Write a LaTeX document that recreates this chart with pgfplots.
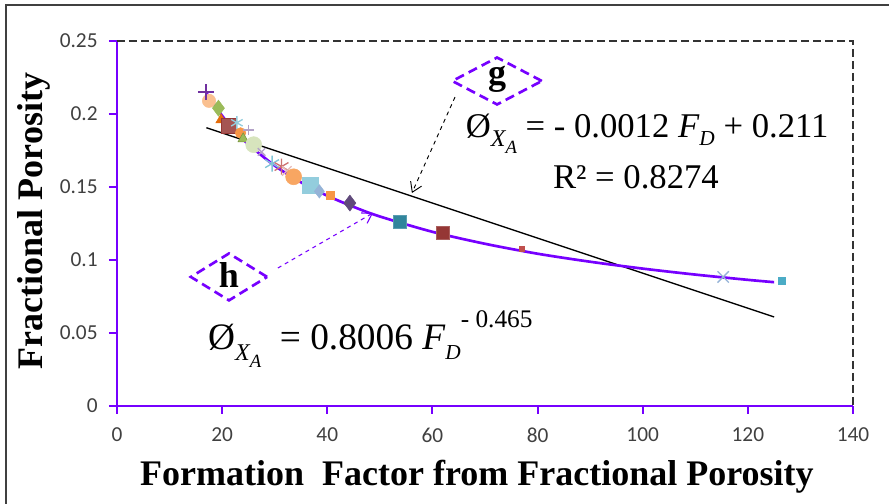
\documentclass[border=0pt]{standalone}
\usepackage{fontspec}
\setmainfont{Liberation Serif}
\newfontfamily\calibri{Carlito}
\usepackage{pgfplots}
\pgfplotsset{compat=1.18}
\usetikzlibrary{arrows.meta,shapes.geometric}

\definecolor{fitpurple}{RGB}{118,0,255}
\definecolor{xlpurple}{RGB}{112,48,160}
\definecolor{peach}{RGB}{250,192,144}
\definecolor{xlgreen}{RGB}{155,187,89}
\definecolor{xldkgreen}{RGB}{119,147,60}
\definecolor{palegreen}{RGB}{215,228,189}
\definecolor{xlorange}{RGB}{247,150,70}
\definecolor{dkorange}{RGB}{228,108,10}
\definecolor{xlbrown}{RGB}{149,55,53}
\definecolor{xlred}{RGB}{192,80,77}
\definecolor{rose}{RGB}{230,185,184}
\definecolor{ltblue}{RGB}{147,205,221}
\definecolor{xlaqua}{RGB}{75,172,198}
\definecolor{dkaqua}{RGB}{49,133,156}
\definecolor{skyblue}{RGB}{149,179,215}
\definecolor{lilac}{RGB}{179,162,199}
\definecolor{dkpurple}{RGB}{96,74,123}

\newcommand{\phix}{Ø\raisebox{-0.28em}{\fontsize{18}{18}\selectfont\itshape X\raisebox{-0.3em}{\fontsize{14}{14}\selectfont A}}}
\newcommand{\FD}{\textit{F}\raisebox{-0.25em}{\fontsize{16}{16}\selectfont\itshape D}}

\begin{document}
\begin{tikzpicture}
\begin{axis}[
    name=ax,
    scale only axis,
    width=552pt, height=273.75pt,
    xmin=0, xmax=140, ymin=0, ymax=0.25,
    xtick={0,20,...,140},
    xticklabels={0,20,40,60,80,100,120,140},
    ytick={0,0.05,0.1,0.15,0.2,0.25},
    yticklabels={0,0.05,0.1,0.15,0.2,0.25},
    axis lines*=left,
    axis line style={fitpurple, line width=2pt},
    tick align=outside,
    major tick length=6pt,
    tick style={fitpurple, line width=1.5pt},
    ticklabel style={font=\calibri\fontsize{16}{16}\selectfont, text=black!75},
    /pgf/number format/assume math mode=true,
    xticklabel shift=7pt,
    yticklabel shift=5pt,
    xlabel={\bfseries Formation\ \ Factor from Fractional Porosity},
    ylabel={\bfseries Fractional Porosity},
    label style={font=\fontsize{27}{27}\selectfont},
    xlabel style={at={(rel axis cs:0.489,0)}, anchor=center, yshift=-53pt},
    ylabel style={at={(rel axis cs:0,0.507)}, anchor=center, yshift=62pt},
    clip=false,
]
% fitted trend lines
\addplot[black, line width=1pt] coordinates {(17,0.1906) (125,0.061)};
% measured points
\addplot[only marks, mark=*, mark size=5pt, draw=peach, fill=peach] coordinates {(17.5,0.209)};
\addplot[only marks, mark=diamond*, mark size=6pt, draw=xlgreen, fill=xlgreen] coordinates {(19.3,0.204)};
\addplot[only marks, mark=triangle*, mark size=4.5pt, draw=dkorange, fill=dkorange] coordinates {(19.8,0.196)};
\addplot[only marks, mark=square*, mark size=5.5pt, draw=xlbrown, fill=xlbrown!85] coordinates {(21.3,0.192)};
\addplot[only marks, mark=asterisk, mark size=5pt, draw=ltblue, line width=1pt] coordinates {(22.8,0.194)};
\addplot[only marks, mark=*, mark size=4pt, draw=xlorange, fill=xlorange] coordinates {(23.5,0.187)};
\addplot[only marks, mark=+, mark size=4pt, draw=lilac, line width=1pt] coordinates {(25,0.189)};
\addplot[only marks, mark=triangle*, mark size=4.5pt, draw=xldkgreen, fill=xlgreen] coordinates {(24,0.183)};
\addplot[only marks, mark=*, mark size=6pt, draw=palegreen, fill=palegreen] coordinates {(26,0.179)};
\addplot[only marks, mark=x, mark size=4pt, draw=lilac, line width=1pt] coordinates {(27.5,0.174)};
\addplot[only marks, mark=asterisk, mark size=6pt, draw=xlaqua!70, line width=1pt] coordinates {(29.5,0.166)};
\addplot[only marks, mark=asterisk, mark size=6pt, draw=xlred!80, line width=1pt] coordinates {(31.3,0.164)};
\addplot[only marks, mark=x, mark size=5pt, draw=rose, line width=1pt] coordinates {(32.3,0.161)};
\addplot[only marks, mark=*, mark size=6pt, draw=xlorange!85, fill=xlorange!85] coordinates {(33.6,0.157)};
\addplot[only marks, mark=square*, mark size=6pt, draw=ltblue, fill=ltblue] coordinates {(36.8,0.151)};
\addplot[only marks, mark=diamond*, mark size=5pt, draw=skyblue, fill=skyblue] coordinates {(38.5,0.147)};
\addplot[only marks, mark=square*, mark size=3pt, draw=xlorange, fill=xlorange] coordinates {(40.6,0.1445)};
\addplot[only marks, mark=diamond*, mark size=6pt, draw=dkpurple, fill=dkpurple] coordinates {(44.3,0.139)};
\addplot[only marks, mark=square*, mark size=5pt, draw=dkaqua!80, fill=dkaqua] coordinates {(53.8,0.126)};
\addplot[only marks, mark=square*, mark size=5pt, draw=xlbrown!80, fill=xlbrown] coordinates {(62,0.1185)};
\addplot[only marks, mark=square*, mark size=2pt, draw=xlred, fill=xlred] coordinates {(77,0.1075)};
\addplot[only marks, mark=x, mark size=6pt, draw=skyblue, line width=1pt] coordinates {(115.3,0.0884)};
\addplot[only marks, mark=square*, mark size=2.5pt, draw=xlaqua, fill=xlaqua] coordinates {(126.5,0.0856)};
% power fit
\addplot[fitpurple, line width=2pt, smooth] coordinates {
    (17,0.2144) (20,0.1988) (22,0.1902) (25,0.1792) (30,0.1646) (35,0.1532)
    (40,0.1440) (45,0.1364) (50,0.1298) (60,0.1193) (70,0.1111) (80,0.1043)
    (90,0.0988) (100,0.0941) (110,0.0900) (120,0.0864) (125,0.0848)
};
\addplot[only marks, mark=+, mark size=6pt, draw=xlpurple, line width=1pt] coordinates {(16.9,0.215)};

% frame
\draw[black!80, dash pattern=on 6pt off 3pt, line width=0.8pt] (rel axis cs:0,1) -- (rel axis cs:1,1) -- (rel axis cs:1,0);
\draw[black!75, line width=1.5pt] (rel axis cs:-0.1508,-0.2685) -- (rel axis cs:-0.1508,1.0986) -- (rel axis cs:1.049,1.0986);

% annotations
\node[diamond, draw=fitpurple, dash pattern=on 7pt off 4pt, line width=2pt, minimum width=68pt, minimum height=36pt, inner sep=0pt]
    at (axis cs:72.3,0.2226) {};
\node at (axis cs:72.3,0.2235) {\fontsize{27}{27}\selectfont\bfseries g};
\node[diamond, draw=fitpurple, dash pattern=on 7pt off 4pt, line width=2pt, minimum width=58pt, minimum height=36pt, inner sep=0pt]
    at (axis cs:21.3,0.0884) {};
\node at (axis cs:21.3,0.0895) {\fontsize{27}{27}\selectfont\bfseries h};
\draw[black, dashed, line width=0.7pt, -{Straight Barb[length=7pt,width=9pt]}] (axis cs:64.3,0.2116) -- (axis cs:56.1,0.1459);
\draw[fitpurple, dashed, line width=0.8pt, -{Straight Barb[length=7pt,width=9pt]}] (axis cs:30.6,0.0945) -- (axis cs:48.7,0.1322);

\node[anchor=base west, inner sep=0pt] at (axis cs:66.3,0.1842)
    {\fontsize{26}{26}\selectfont \phix\ = - 0.0012 \FD\ + 0.211};
\node[anchor=base, inner sep=0pt] at (axis cs:98.7,0.1493)
    {\fontsize{26}{26}\selectfont R² = 0.8274};
\node[anchor=base west, inner sep=0pt] at (axis cs:17.3,0.0384)
    {\fontsize{28}{28}\selectfont \phix\ \ = 0.8006 \FD\raisebox{0.6em}{\fontsize{19}{19}\selectfont - 0.465}};
\end{axis}
\pgfresetboundingbox
\path ([xshift=-87.75pt,yshift=-73.5pt]ax.south west) rectangle ([xshift=27pt,yshift=30.75pt]ax.north east);
\end{tikzpicture}
\end{document}
